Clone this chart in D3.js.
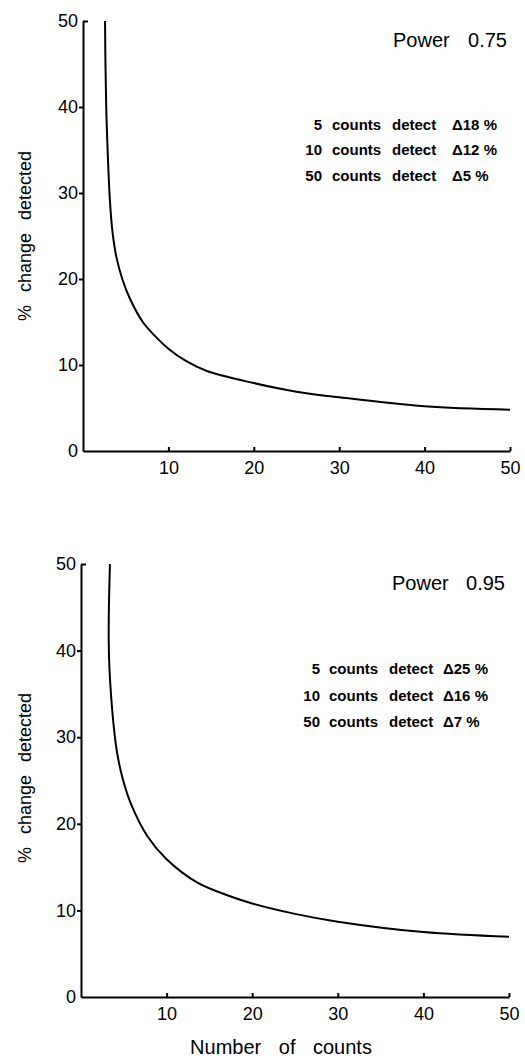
<!DOCTYPE html>
<html>
<head>
<meta charset="utf-8">
<script src="https://cdn.jsdelivr.net/npm/d3@7"></script>
<style>
  body { margin: 0; background: #fff; }
  svg { display: block; font-family: "Liberation Sans", Arial, sans-serif; }
</style>
</head>
<body>
<svg id="chart" width="525" height="1058"></svg>
<script>
// ticks
const xTicks = [10, 20, 30, 40, 50];
const yTicks = [0, 10, 20, 30, 40, 50];

// power 0.75 curve
const counts075 = [2.58, 2.63, 2.72, 2.88, 3.16, 3.45, 3.9, 4.6, 5.5, 7.0, 8.5, 10, 12, 14.5, 20, 25, 30, 40, 50];
const change075 = [50, 45, 40, 35, 29, 25.5, 22.6, 20.0, 17.7, 15.0, 13.3, 11.9, 10.5, 9.3, 7.9, 6.9, 6.25, 5.2, 4.8];

// power 0.95 curve
const counts095 = [3.38, 3.26, 3.24, 3.32, 3.5, 3.8, 4.2, 4.85, 5.8, 7.8, 10, 13.6, 17.5, 20, 25, 30, 40, 50];
const change095 = [50, 45, 41, 38, 35, 31.5, 28.3, 25.3, 22.4, 18.5, 15.9, 13.2, 11.6, 10.8, 9.6, 8.7, 7.5, 6.95];

// annotations
const powerLabels = ['0.75', '0.95'];
const noteCounts = [5, 10, 50];
const noteDelta075 = [18, 12, 5];
const noteDelta095 = [25, 16, 7];

const svg = d3.select('#chart');

function drawPanel(p) {
  const x = d3.scaleLinear().domain([0, 50]).range(p.xRange);
  const y = d3.scaleLinear().domain([0, 50]).range(p.yRange);
  const g = svg.append('g');

  // y axis
  const ya = g.append('g')
    .attr('transform', 'translate(' + x(0) + ',0)')
    .call(d3.axisLeft(y).tickValues(yTicks).tickSize(4).tickSizeOuter(0).tickPadding(1));
  ya.selectAll('.tick').filter((d) => d === 50).select('line').attr('x2', 5);
  ya.selectAll('.tick').filter((d) => d === 0).select('line').remove();

  // x axis
  const xa = g.append('g')
    .attr('transform', 'translate(0,' + y(0) + ')')
    .call(d3.axisBottom(x).tickValues(xTicks).tickSize(-4).tickSizeOuter(0).tickPadding(10));

  [ya, xa].forEach((a) => {
    a.attr('font-family', null).attr('font-size', 18);
    a.select('.domain').attr('stroke-width', 2).attr('stroke', '#000');
    a.selectAll('.tick line').attr('stroke-width', 2).attr('stroke', '#000');
    a.selectAll('.tick text').attr('fill', '#000');
  });

  // curve
  const data = p.counts.map((c, i) => ({ n: c, v: p.change[i] }));
  g.append('path')
    .datum(data)
    .attr('fill', 'none')
    .attr('stroke', '#000')
    .attr('stroke-width', 2)
    .attr('d', d3.line().x((d) => x(d.n)).y((d) => y(d.v)).curve(d3.curveCatmullRom.alpha(0.5)));

  // y label
  g.append('text')
    .attr('transform', 'translate(31,' + p.yLabelMid + ') rotate(-90)')
    .attr('text-anchor', 'middle')
    .attr('font-size', 18)
    .attr('word-spacing', 8)
    .text('% change detected');

  // power title
  const t = g.append('text').attr('y', p.titleY).attr('font-size', 20);
  t.append('tspan').attr('x', p.titleX[0]).text('Power');
  t.append('tspan').attr('x', p.titleX[1]).attr('text-anchor', 'end').text(p.power);

  // notes
  noteCounts.forEach((c, i) => {
    const yy = p.noteY[i];
    const row = g.append('text').attr('y', yy).attr('font-size', 15).attr('font-weight', 'bold');
    row.append('tspan').attr('x', p.noteX[0]).attr('text-anchor', 'end').text(c);
    row.append('tspan').attr('x', p.noteX[1]).text('counts');
    row.append('tspan').attr('x', p.noteX[2]).text('detect');
    row.append('tspan').attr('x', p.noteX[3]).text('Δ' + p.delta[i] + ' %');
  });
}

drawPanel({
  xRange: [83, 510], yRange: [451, 21],
  counts: counts075, change: change075,
  yLabelMid: 236,
  power: powerLabels[0], titleX: [393, 507], titleY: 47,
  noteY: [130, 155, 181], noteX: [322, 332, 392, 452],
  delta: noteDelta075
});

drawPanel({
  xRange: [81, 509], yRange: [997, 564],
  counts: counts095, change: change095,
  yLabelMid: 778,
  power: powerLabels[1], titleX: [392, 505], titleY: 590,
  noteY: [674, 701, 727], noteX: [320, 329, 389, 443],
  delta: noteDelta095
});

// x label
svg.append('text')
  .attr('x', 281)
  .attr('y', 1054)
  .attr('text-anchor', 'middle')
  .attr('font-size', 20)
  .attr('word-spacing', 12)
  .text('Number of counts');
</script>
</body>
</html>
